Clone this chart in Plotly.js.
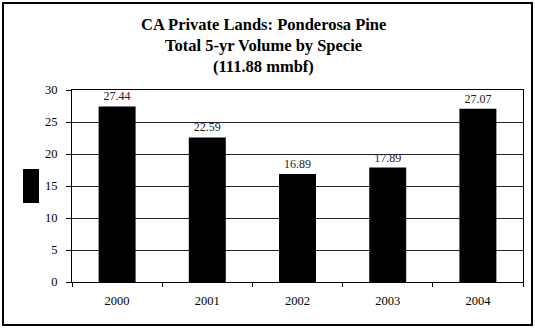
<!DOCTYPE html>
<html><head><meta charset="utf-8">
<script src="https://cdn.plot.ly/plotly-3.0.1.min.js"></script>
<style>html,body{margin:0;padding:0;background:#fff}#c{width:535px;height:328px}</style>
</head><body><div id="c"></div>
<script>
const years = ['2000','2001','2002','2003','2004'];
const volumes = [27.44, 22.59, 16.89, 17.89, 27.07];
const volumeLabels = ['27.44','22.59','16.89','17.89','27.07'];
const titleLines = ['CA Private Lands: Ponderosa Pine','Total 5-yr Volume by Specie','(111.88 mmbf)'];

const W=535,H=328,L=72,R=12,T=90,B=46;
const pw=W-L-R, ph=H-T-B;
function px(x){return (x-L)/pw;}
function py(y){return (H-B-y)/ph;}
const serif='Liberation Serif, Times New Roman, serif';
const titleY=[25,46,66];

const trace = {
  type:'bar', x:years, y:volumes, text:volumeLabels, textposition:'outside',
  textfont:{family:serif, size:12, color:'#222'},
  marker:{color:'#000', line:{color:'#000', width:0}},
  cliponaxis:false, hoverinfo:'none'
};
const layout = {
  width:W, height:H, margin:{l:L,r:R,t:T,b:B},
  paper_bgcolor:'#fff', plot_bgcolor:'#fff', showlegend:false, bargap:0.59,
  font:{family:serif, size:12, color:'#000'},
  annotations: titleLines.map((s,i)=>({text:'<b>'+s+'</b>', xref:'paper', yref:'paper',
    x:px(263), y:py(titleY[i]), xanchor:'center', yanchor:'middle', showarrow:false,
    font:{family:serif, size:16.5, color:'#000'}})),
  xaxis:{type:'category', showline:true, linecolor:'#000', linewidth:1, mirror:true,
    ticks:'outside', ticklen:4, tickcolor:'#000', tickson:'boundaries', showgrid:false,
    ticklabelstandoff:7, tickfont:{size:12.5}, fixedrange:true},
  yaxis:{range:[0,30], dtick:5, showline:true, linecolor:'#000', linewidth:1, mirror:true,
    ticks:'outside', ticklen:5, tickcolor:'#000', showgrid:true, gridcolor:'#222', gridwidth:1,
    ticklabelstandoff:6, zeroline:false, tickfont:{size:12.5}, fixedrange:true},
  shapes:[
    {type:'rect', xref:'paper', yref:'paper', x0:px(3), x1:px(532), y0:py(3), y1:py(325),
     line:{color:'#000', width:2}, fillcolor:'rgba(0,0,0,0)', layer:'below'},
    {type:'rect', xref:'paper', yref:'paper', x0:px(23), x1:px(39), y0:py(169), y1:py(203),
     line:{width:0}, fillcolor:'#000'}
  ]
};
Plotly.newPlot('c',[trace],layout,{displayModeBar:false,staticPlot:true});
</script></body></html>
